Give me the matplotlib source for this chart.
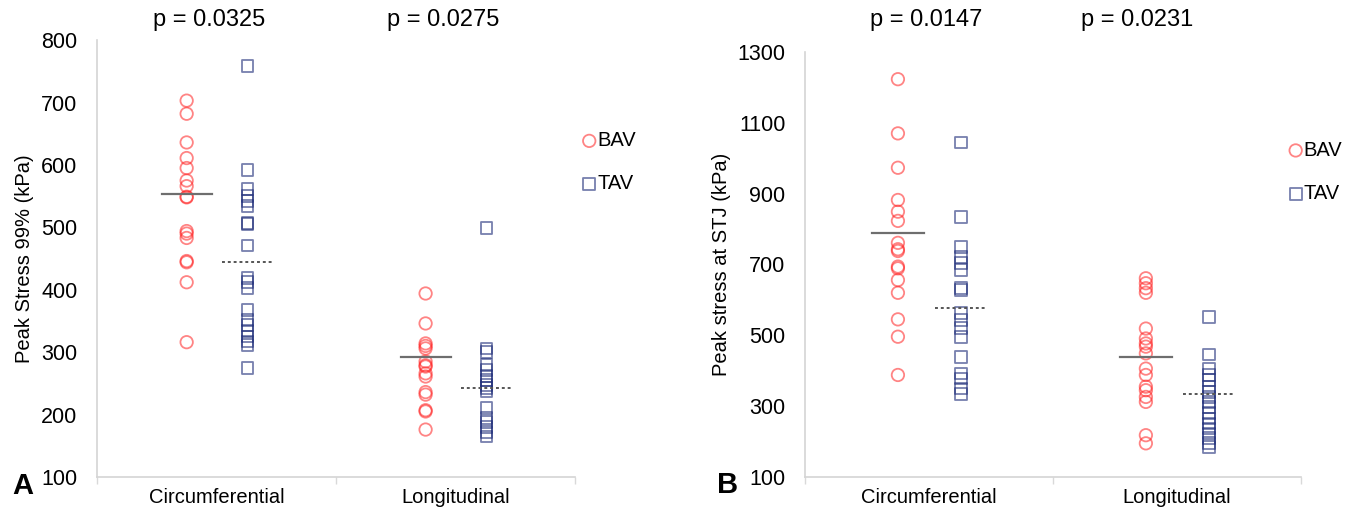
import matplotlib.pyplot as plt
import numpy as np

plt.rcParams['font.family'] = ['Liberation Sans', 'DejaVu Sans']

categories = ['Circumferential', 'Longitudinal']

# panel A - peak stress 99% (kPa)
a_bav_circ = [703, 682, 636, 611, 595, 575, 566, 549, 548, 494, 490, 483, 446, 444, 412, 316]
a_tav_circ = [758, 592, 561, 550, 542, 534, 507, 505, 471, 419, 412, 403, 368, 352, 344,
              334, 325, 317, 311, 275]
a_bav_long = [394, 346, 314, 310, 306, 285, 279, 277, 266, 261, 236, 232, 207, 205, 176]
a_tav_long = [499, 306, 300, 280, 272, 262, 255, 248, 242, 237, 210, 195, 188, 180, 172, 165]
a_bav_mean = [553, 293]
a_tav_mean = [445, 243]
a_pvals = ['p = 0.0325', 'p = 0.0275']

# panel B - peak stress at STJ (kPa)
b_bav_circ = [1223, 1070, 973, 882, 849, 823, 761, 743, 738, 694, 689, 656, 620, 545, 496, 388]
b_tav_circ = [1044, 833, 750, 722, 703, 684, 633, 628, 562, 543, 520, 496, 439, 392, 378, 350, 334]
b_bav_long = [661, 647, 633, 620, 519, 491, 477, 468, 449, 406, 388, 355, 345, 326, 312, 218, 195]
b_tav_long = [552, 446, 406, 388, 373, 355, 340, 326, 312, 298, 281, 265, 251, 237, 223,
              209, 195, 185]
b_bav_mean = [790, 439]
b_tav_mean = [578, 333]
b_pvals = ['p = 0.0147', 'p = 0.0231']

RED = '#ff2020'
BLUE = '#1c2a78'
FS = 14.5


def draw_panel(ax, bav, tav, bav_mean, tav_mean, yticks, ylabel, pvals, pval_x, letter):
    for i in range(2):
        xb = i + 0.5 - 0.125
        xt = i + 0.5 + 0.13
        ax.scatter(np.full(len(bav[i]), xb), bav[i], s=80, marker='o', facecolors='none',
                   edgecolors=RED, linewidths=1.3, alpha=0.55, zorder=3,
                   label='BAV' if i == 0 else None)
        ax.scatter(np.full(len(tav[i]), xt), tav[i], s=72, marker='s', facecolors='none',
                   edgecolors=BLUE, linewidths=1.3, alpha=0.6, zorder=3,
                   label='TAV' if i == 0 else None)
        ax.plot([xb - 0.105, xb + 0.105], [bav_mean[i]] * 2, color='#6e6e6e', lw=1.6, zorder=4)
        ax.plot([xt - 0.105, xt + 0.105], [tav_mean[i]] * 2, color='#555555', lw=1.4,
                ls=(0, (1.5, 1.5)), zorder=4)

    ax.set_xlim(0, 2)
    ax.set_ylim(yticks[0], yticks[-1])
    ax.set_yticks(yticks)
    ax.tick_params(axis='y', length=0, labelsize=15.5, pad=14)
    ax.set_xticks([0, 1, 2])
    ax.set_xticklabels([])
    ax.set_xticks([0.5, 1.5], minor=True)
    ax.set_xticklabels(categories, minor=True, fontsize=FS)
    ax.tick_params(axis='x', which='major', length=5, color='#d9d9d9', width=1)
    ax.tick_params(axis='x', which='minor', length=0, pad=8)
    for s in ['top', 'right']:
        ax.spines[s].set_visible(False)
    for s in ['left', 'bottom']:
        ax.spines[s].set_color('#d4d4d4')
        ax.spines[s].set_linewidth(1.2)
    ax.set_ylabel(ylabel, fontsize=FS, labelpad=5)

    for x, p in zip(pval_x, pvals):
        ax.annotate(p, xy=(x, 0.961), xycoords=('data', 'figure fraction'),
                    ha='center', va='center', fontsize=17)
    ax.annotate(letter, xy=(-0.156, -0.02), xycoords='axes fraction', ha='center',
                va='center', fontsize=21, fontweight='bold')


fig = plt.figure(figsize=(13.65, 5.14), dpi=100)
ax1 = fig.add_axes([0.0711, 0.072, 0.3501, 0.850])
ax2 = fig.add_axes([0.5897, 0.072, 0.3633, 0.827])

draw_panel(ax1, [a_bav_circ, a_bav_long], [a_tav_circ, a_tav_long], a_bav_mean, a_tav_mean,
           np.arange(100, 801, 100), 'Peak Stress 99% (kPa)', a_pvals, [0.47, 1.45], 'A')
draw_panel(ax2, [b_bav_circ, b_bav_long], [b_tav_circ, b_tav_long], b_bav_mean, b_tav_mean,
           np.arange(100, 1301, 200), 'Peak stress at STJ (kPa)', b_pvals, [0.49, 1.34], 'B')

ax1.legend(loc='upper left', bbox_to_anchor=(0.992, 0.81), frameon=False, fontsize=FS,
           handletextpad=-0.1, labelspacing=1.2, handlelength=1.0, borderaxespad=0)
ax2.legend(loc='upper left', bbox_to_anchor=(0.953, 0.81), frameon=False, fontsize=FS,
           handletextpad=-0.1, labelspacing=1.2, handlelength=1.0, borderaxespad=0)

fig.savefig('out.png', dpi=100)
